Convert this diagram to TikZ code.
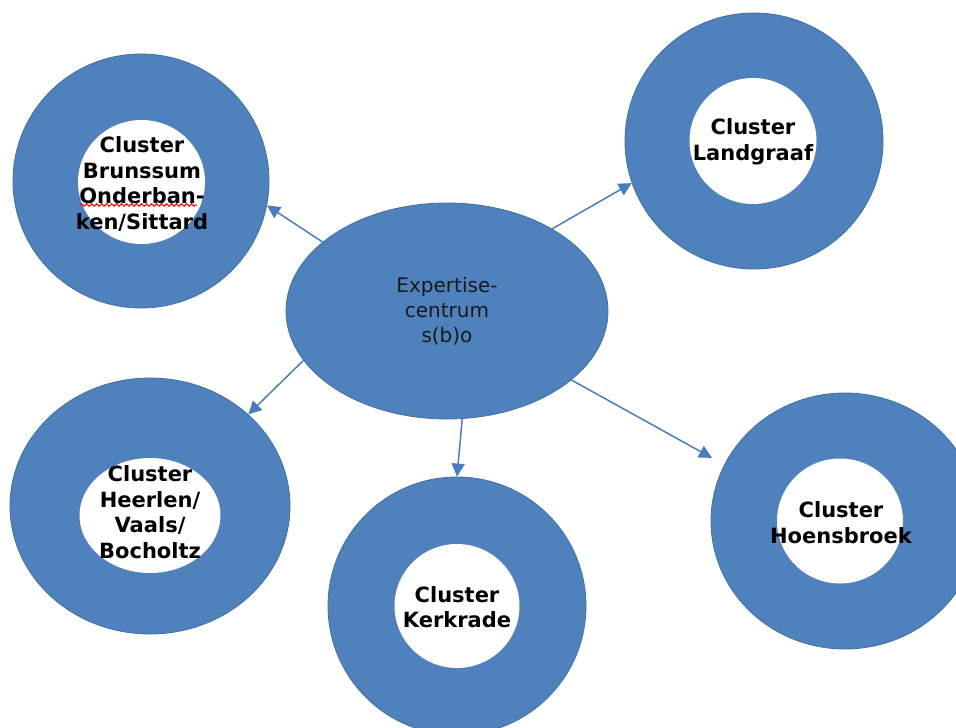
\documentclass[tikz,border=0pt]{standalone}
\usepackage{fontspec}
\setmainfont{DejaVu Sans}
\usetikzlibrary{arrows.meta,shapes.geometric,decorations.pathmorphing}
\definecolor{vulblauw}{HTML}{4F81BD}
\definecolor{randblauw}{HTML}{41719C}
\definecolor{pijlblauw}{HTML}{4A7EBB}
\tikzstyle{ring} = [ellipse, fill=vulblauw, draw=randblauw, thick, inner sep=0pt]
\tikzstyle{hole} = [ellipse, fill=white, inner sep=0pt]
\tikzstyle{lbl}  = [font=\bfseries\fontsize{21}{25.5}\selectfont, align=center, inner sep=0pt]
\tikzstyle{hub}  = [ellipse, fill=vulblauw, draw=randblauw, thick, align=center, inner sep=0pt, font=\fontsize{20}{25}\selectfont, text=black!90, minimum width=322pt, minimum height=216pt]
\tikzstyle{arr}  = [pijlblauw, line width=1.5pt, -{Triangle[length=13pt,width=13pt]}]
\begin{document}
\begin{tikzpicture}[x=1pt,y=-1pt]
		\useasboundingbox (0,0) rectangle (956,728);
		\clip (0,0) rectangle (956,728);

		\node[hub] (ctr) at (447,311) {Expertise-\\centrum\\s(b)o};

		\node[ring, minimum width=256pt, minimum height=254pt] (brun) at (141,181) {};
		\node[hole, minimum width=127pt, minimum height=124pt] (brunhole) at (141.5,182) {};
		\node[lbl] (brunlbl) at (142,184) {Cluster\\Brunssum\\Onderban-\\ken/Sittard};
		\draw[red, line width=1pt, decorate, decoration={snake, amplitude=1.3pt, segment length=5pt}]
		(80,205) -- (197,205);

		\node[ring, minimum width=258pt, minimum height=256pt] (land) at (754,141) {};
		\node[hole, minimum width=127pt, minimum height=126pt] (landhole) at (753,141) {};
		\node[lbl] (landlbl) at (753,142) {Cluster\\Landgraaf};

		\node[ring, minimum width=280pt, minimum height=256pt] (heer) at (150,506) {};
		\node[hole, minimum width=141pt, minimum height=115pt] (heerhole) at (150,515.5) {};
		\node[lbl] (heerlbl) at (150,512) {Cluster\\Heerlen/\\Vaals/\\Bocholtz};

		\node[ring, minimum width=258pt, minimum height=258pt] (kerk) at (457,606) {};
		\node[hole, minimum width=125pt, minimum height=124pt] (kerkhole) at (457,606) {};
		\node[lbl] (kerklbl) at (457,607) {Cluster\\Kerkrade};

		\node[ring, minimum width=268pt, minimum height=256pt] (hoen) at (845,521) {};
		\node[hole, minimum width=126pt, minimum height=125pt] (hoenhole) at (840,521) {};
		\node[lbl] (hoenlbl) at (841,522.5) {Cluster\\Hoensbroek};

		\draw[arr] (ctr.151) -- (brun.349);
		\draw[arr] (ctr.38) -- (land.199);
		\draw[arr] (ctr.199) -- (heer.43);
		\draw[arr] (ctr.278) -- (kerk.90);
		\draw[arr, shorten >=14pt] (ctr.331) -- (hoen.155);
	\end{tikzpicture}
\end{document}
